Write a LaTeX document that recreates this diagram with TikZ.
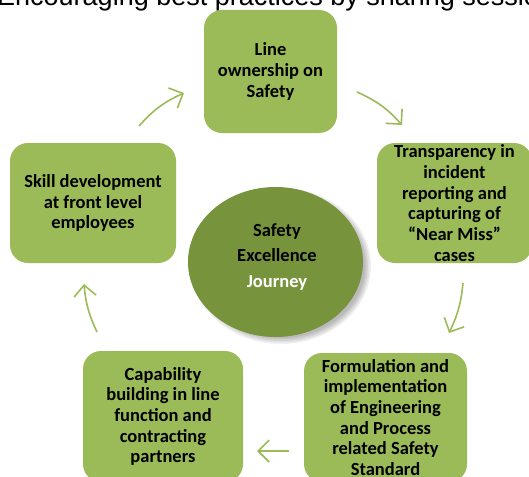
\documentclass[tikz,border=0pt]{standalone}
\usepackage{fontspec}
\setmainfont{Carlito}
\newfontfamily\topfont{Liberation Sans}
\usetikzlibrary{arrows.meta,shapes.geometric}
\definecolor{boxgreen}{HTML}{9BBB59}
\definecolor{circgreen}{HTML}{77933C}
\definecolor{arrowgreen}{HTML}{9BBB59}
\begin{document}
\begin{tikzpicture}[x=1pt,y=-1pt,
  stepbox/.style={fill=boxgreen, rounded corners=18pt, inner sep=0pt, align=center,
    font=\bfseries\fontsize{18.5}{20.7}\selectfont, text=black},
  cyc/.style={draw=arrowgreen, line width=1.6pt,
    -{Straight Barb[length=11pt,width=22pt,line width=1.6pt]}},
]
\useasboundingbox (0,0) rectangle (529,476);
\clip (0,0) rectangle (529,476);
\fill[white] (0,0) rectangle (529,476);

\node[anchor=base west, font=\topfont\fontsize{27}{30}\selectfont, inner sep=0pt] (hdr) at (-3,5.5)
  {Encouraging best practices by sharing sessions};

% boxes
\node[stepbox, minimum width=133pt, minimum height=123pt] (own) at (270.5,71.5)
  {Line\\ownership on\\Safety};
\node[stepbox, minimum width=155pt, minimum height=120pt] (trans) at (454.5,203)
  {Transparency in\\incident\\reporting and\\capturing of\\``Near Miss''\\cases};
\node[stepbox, minimum width=163pt, minimum height=129pt] (form) at (385.5,417.5)
  {Formulation and\\implementation\\of Engineering\\and Process\\related Safety\\Standard};
\node[stepbox, minimum width=160pt, minimum height=131pt] (cap) at (163,416.5)
  {Capability\\building in line\\function and\\contracting\\partners};
\node[stepbox, minimum width=166pt, minimum height=120pt] (skill) at (93,203)
  {Skill development\\at front level\\employees};

% hub shadow
\foreach \r in {0,1.5,3,4.5,6}
  \fill[black, opacity=0.06] (281,266) ellipse [x radius=84+\r, y radius=72+\r];
\node[ellipse, fill=circgreen, minimum width=175pt, minimum height=150pt, inner sep=0pt] (hub) at (275.5,262) {};
\node[align=center, font=\bfseries\fontsize{18.5}{25.5}\selectfont, inner sep=0pt] (hubtext) at (277,257)
  {Safety\\Excellence\\\textcolor{white}{Journey}};

% arrows
\coordinate (a1s) at (139,126); \coordinate (a1e) at (184,93);
\coordinate (a2s) at (357,92);  \coordinate (a2e) at (402,125);
\coordinate (a3s) at (463,283); \coordinate (a3e) at (449,333);
\coordinate (a4s) at (289,451); \coordinate (a4e) at (257,451);
\coordinate (a5s) at (97,332);  \coordinate (a5e) at (84,284);
\draw[cyc] (a1s) to[bend left=12] (a1e);
\draw[cyc] (a2s) to[bend left=12] (a2e);
\draw[cyc] (a3s) to[bend left=10] (a3e);
\draw[cyc] (a4s) -- (a4e);
\draw[cyc] (a5s) to[bend left=10] (a5e);
\end{tikzpicture}
\end{document}
